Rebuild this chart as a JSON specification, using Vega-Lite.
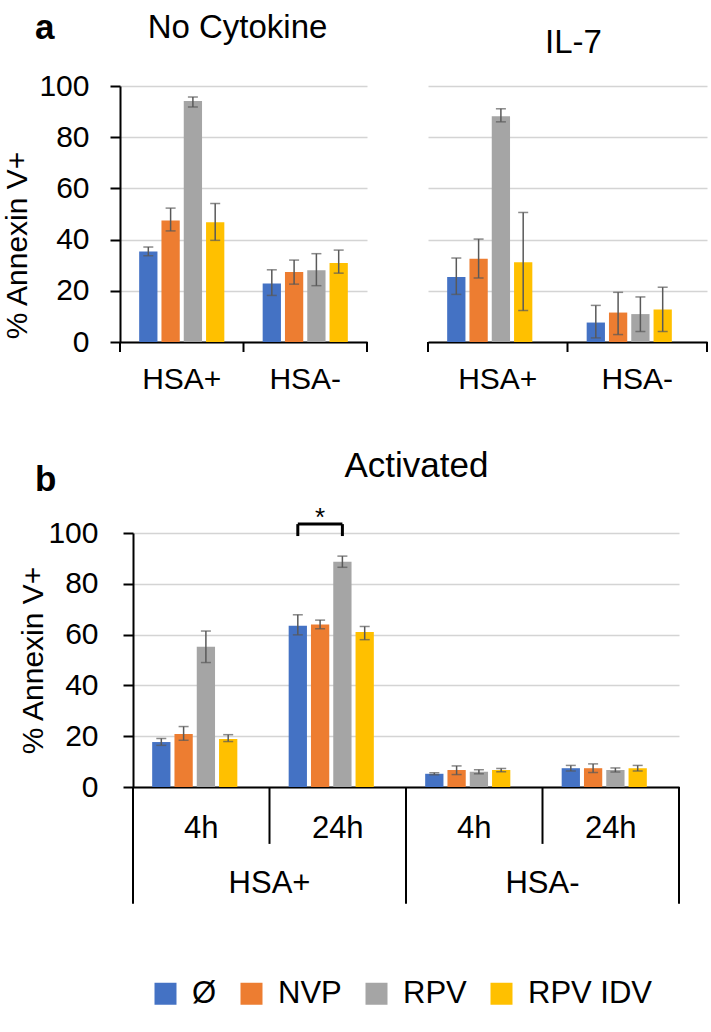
{
  "$schema": "https://vega.github.io/schema/vega-lite/v6.json",
  "padding": {"left": 2, "top": 11, "right": 0, "bottom": 0},
  "autosize": {"type": "pad"},
  "config": {
    "font": "Liberation Sans",
    "view": {"stroke": null},
    "axis": {"domainColor": "black", "domainWidth": 2, "tickColor": "black", "tickWidth": 2, "gridColor": "#d4d4d4", "gridWidth": 1.5, "labelFontSize": 30, "labelColor": "black", "titleFontSize": 30, "titleFontWeight": "normal", "titleColor": "black", "labelFont": "Liberation Sans", "titleFont": "Liberation Sans"},
    "title": {"fontSize": 33, "fontWeight": "normal", "font": "Liberation Sans", "color": "black"},
    "legend": {"orient": "none", "direction": "horizontal", "legendX": 30, "legendY": 892, "padding": 0, "symbolType": "square", "symbolSize": 484, "symbolStrokeWidth": 0, "symbolOpacity": 1, "labelFont": "Liberation Sans", "labelFontSize": 31, "labelColor": "black", "labelOffset": 11, "columnPadding": 19, "labelLimit": 300}
  },
  "datasets": {
    "d": [
      {"p": "NC", "cell": "HSA+", "time": "", "grp": "", "drug": "Ø", "v": 35.4, "lo": 33.7, "hi": 37.1},
      {"p": "NC", "cell": "HSA+", "time": "", "grp": "", "drug": "NVP", "v": 47.5, "lo": 43.4, "hi": 52.3},
      {"p": "NC", "cell": "HSA+", "time": "", "grp": "", "drug": "RPV", "v": 94.1, "lo": 91.8, "hi": 95.7},
      {"p": "NC", "cell": "HSA+", "time": "", "grp": "", "drug": "RPV IDV", "v": 46.8, "lo": 39.7, "hi": 54.1},
      {"p": "NC", "cell": "HSA-", "time": "", "grp": "", "drug": "Ø", "v": 22.9, "lo": 18.2, "hi": 28.2},
      {"p": "NC", "cell": "HSA-", "time": "", "grp": "", "drug": "NVP", "v": 27.3, "lo": 22.6, "hi": 32.0},
      {"p": "NC", "cell": "HSA-", "time": "", "grp": "", "drug": "RPV", "v": 28.0, "lo": 22.0, "hi": 34.5},
      {"p": "NC", "cell": "HSA-", "time": "", "grp": "", "drug": "RPV IDV", "v": 30.9, "lo": 26.9, "hi": 35.9},
      {"p": "IL7", "cell": "HSA+", "time": "", "grp": "", "drug": "Ø", "v": 25.4, "lo": 18.6, "hi": 32.8},
      {"p": "IL7", "cell": "HSA+", "time": "", "grp": "", "drug": "NVP", "v": 32.5, "lo": 25.0, "hi": 40.2},
      {"p": "IL7", "cell": "HSA+", "time": "", "grp": "", "drug": "RPV", "v": 88.2, "lo": 86.0, "hi": 91.1},
      {"p": "IL7", "cell": "HSA+", "time": "", "grp": "", "drug": "RPV IDV", "v": 31.2, "lo": 12.3, "hi": 50.6},
      {"p": "IL7", "cell": "HSA-", "time": "", "grp": "", "drug": "Ø", "v": 7.6, "lo": 1.6, "hi": 14.3},
      {"p": "IL7", "cell": "HSA-", "time": "", "grp": "", "drug": "NVP", "v": 11.5, "lo": 2.9, "hi": 19.4},
      {"p": "IL7", "cell": "HSA-", "time": "", "grp": "", "drug": "RPV", "v": 10.9, "lo": 4.1, "hi": 17.6},
      {"p": "IL7", "cell": "HSA-", "time": "", "grp": "", "drug": "RPV IDV", "v": 12.7, "lo": 4.1, "hi": 21.4},
      {"p": "ACT", "cell": "HSA+", "time": "4h", "grp": "HSA+ 4h", "drug": "Ø", "v": 17.7, "lo": 16.4, "hi": 19.1},
      {"p": "ACT", "cell": "HSA+", "time": "4h", "grp": "HSA+ 4h", "drug": "NVP", "v": 20.9, "lo": 18.4, "hi": 23.8},
      {"p": "ACT", "cell": "HSA+", "time": "4h", "grp": "HSA+ 4h", "drug": "RPV", "v": 55.2, "lo": 49.0, "hi": 61.4},
      {"p": "ACT", "cell": "HSA+", "time": "4h", "grp": "HSA+ 4h", "drug": "RPV IDV", "v": 18.9, "lo": 17.9, "hi": 20.6},
      {"p": "ACT", "cell": "HSA+", "time": "24h", "grp": "HSA+ 24h", "drug": "Ø", "v": 63.5, "lo": 59.9, "hi": 67.8},
      {"p": "ACT", "cell": "HSA+", "time": "24h", "grp": "HSA+ 24h", "drug": "NVP", "v": 64.0, "lo": 62.3, "hi": 65.7},
      {"p": "ACT", "cell": "HSA+", "time": "24h", "grp": "HSA+ 24h", "drug": "RPV", "v": 88.7, "lo": 86.5, "hi": 90.9},
      {"p": "ACT", "cell": "HSA+", "time": "24h", "grp": "HSA+ 24h", "drug": "RPV IDV", "v": 61.0, "lo": 58.0, "hi": 63.2},
      {"p": "ACT", "cell": "HSA-", "time": "4h", "grp": "HSA- 4h", "drug": "Ø", "v": 5.2, "lo": 4.8, "hi": 5.6},
      {"p": "ACT", "cell": "HSA-", "time": "4h", "grp": "HSA- 4h", "drug": "NVP", "v": 6.7, "lo": 4.9, "hi": 8.3},
      {"p": "ACT", "cell": "HSA-", "time": "4h", "grp": "HSA- 4h", "drug": "RPV", "v": 6.0, "lo": 5.2, "hi": 6.8},
      {"p": "ACT", "cell": "HSA-", "time": "4h", "grp": "HSA- 4h", "drug": "RPV IDV", "v": 6.7, "lo": 6.0, "hi": 7.3},
      {"p": "ACT", "cell": "HSA-", "time": "24h", "grp": "HSA- 24h", "drug": "Ø", "v": 7.4, "lo": 6.3, "hi": 8.5},
      {"p": "ACT", "cell": "HSA-", "time": "24h", "grp": "HSA- 24h", "drug": "NVP", "v": 7.4, "lo": 5.7, "hi": 9.1},
      {"p": "ACT", "cell": "HSA-", "time": "24h", "grp": "HSA- 24h", "drug": "RPV", "v": 6.7, "lo": 5.9, "hi": 7.5},
      {"p": "ACT", "cell": "HSA-", "time": "24h", "grp": "HSA- 24h", "drug": "RPV IDV", "v": 7.4, "lo": 6.3, "hi": 8.5}
    ]
  },
  "resolve": {"scale": {"color": "shared"}, "legend": {"color": "shared"}},
  "spacing": 54,
  "vconcat": [
    {
      "title": {"text": "a", "anchor": "start", "fontSize": 35, "fontWeight": "bold", "dx": 32, "dy": 38},
      "resolve": {"scale": {"color": "shared"}, "legend": {"color": "shared"}},
      "spacing": 59,
      "hconcat": [
        {
          "width": 247, "height": 256,
          "title": {"text": "No Cytokine", "offset": 26, "dx": -6},
          "data": {"name": "d"},
          "transform": [{"filter": "datum.p == 'NC'"}],
          "layer": [
            {"mark": {"type": "bar"}, "encoding": {
              "x": {"field": "cell", "type": "nominal", "sort": ["HSA+", "HSA-"], "scale": {"paddingInner": 0, "paddingOuter": 0}, "axis": {"title": null, "labelAngle": 0, "ticks": false, "labelPadding": 22, "labelFontSize": 30}},
              "xOffset": {"field": "drug", "type": "nominal", "sort": ["Ø", "NVP", "RPV", "RPV IDV"], "scale": {"paddingInner": 0.18, "paddingOuter": 0.86}},
              "y": {"field": "v", "type": "quantitative", "scale": {"domain": [0, 100], "nice": false}, "axis": {"title": "% Annexin V+", "values": [0, 20, 40, 60, 80, 100], "grid": true, "tickSize": 10, "labelPadding": 21, "titlePadding": 6, "titleY": 159}},
              "color": {"field": "drug", "type": "nominal", "sort": ["Ø", "NVP", "RPV", "RPV IDV"], "scale": {"domain": ["Ø", "NVP", "RPV", "RPV IDV"], "range": ["#4472C4", "#ED7D31", "#A5A5A5", "#FFC000"]}, "legend": {"title": null}}
            }},
            {"mark": {"type": "rule", "color": "#595959", "strokeWidth": 1.5}, "encoding": {
              "x": {"field": "cell", "type": "nominal", "sort": ["HSA+", "HSA-"]},
              "xOffset": {"field": "drug", "type": "nominal", "sort": ["Ø", "NVP", "RPV", "RPV IDV"]},
              "y": {"field": "lo", "type": "quantitative"}, "y2": {"field": "hi"}
            }},
            {"mark": {"type": "tick", "color": "#595959", "thickness": 1.5, "size": 10}, "encoding": {
              "x": {"field": "cell", "type": "nominal", "sort": ["HSA+", "HSA-"]},
              "xOffset": {"field": "drug", "type": "nominal", "sort": ["Ø", "NVP", "RPV", "RPV IDV"]},
              "y": {"field": "lo", "type": "quantitative"}
            }},
            {"mark": {"type": "tick", "color": "#595959", "thickness": 1.5, "size": 10}, "encoding": {
              "x": {"field": "cell", "type": "nominal", "sort": ["HSA+", "HSA-"]},
              "xOffset": {"field": "drug", "type": "nominal", "sort": ["Ø", "NVP", "RPV", "RPV IDV"]},
              "y": {"field": "hi", "type": "quantitative"}
            }},
            {"transform": [{"filter": "datum.drug == 'Ø'"}], "mark": {"type": "rule", "color": "black", "strokeWidth": 2}, "encoding": {
              "x": {"field": "cell", "type": "nominal", "sort": ["HSA+", "HSA-"], "bandPosition": 0},
              "y": {"datum": 0}, "y2": {"datum": -3.9}
            }},
            {"transform": [{"filter": "datum.drug == 'Ø' && datum.cell == 'HSA-'"}], "mark": {"type": "rule", "color": "black", "strokeWidth": 2}, "encoding": {
              "x": {"field": "cell", "type": "nominal", "sort": ["HSA+", "HSA-"], "bandPosition": 1},
              "y": {"datum": 0}, "y2": {"datum": -3.9}
            }}
          ]
        },
        {
          "width": 279, "height": 256,
          "title": {"text": "IL-7", "offset": 26, "dx": 6},
          "data": {"name": "d"},
          "transform": [{"filter": "datum.p == 'IL7'"}],
          "layer": [
            {"mark": {"type": "bar"}, "encoding": {
              "x": {"field": "cell", "type": "nominal", "sort": ["HSA+", "HSA-"], "scale": {"paddingInner": 0, "paddingOuter": 0}, "axis": {"title": null, "labelAngle": 0, "ticks": false, "labelPadding": 22, "labelFontSize": 30}},
              "xOffset": {"field": "drug", "type": "nominal", "sort": ["Ø", "NVP", "RPV", "RPV IDV"], "scale": {"paddingInner": 0.2, "paddingOuter": 0.87}},
              "y": {"field": "v", "type": "quantitative", "scale": {"domain": [0, 100], "nice": false}, "axis": {"title": null, "values": [0, 20, 40, 60, 80, 100], "grid": true, "domain": false, "ticks": false, "labels": false}},
              "color": {"field": "drug", "type": "nominal", "sort": ["Ø", "NVP", "RPV", "RPV IDV"], "scale": {"domain": ["Ø", "NVP", "RPV", "RPV IDV"], "range": ["#4472C4", "#ED7D31", "#A5A5A5", "#FFC000"]}, "legend": {"title": null}}
            }},
            {"mark": {"type": "rule", "color": "#595959", "strokeWidth": 1.5}, "encoding": {
              "x": {"field": "cell", "type": "nominal", "sort": ["HSA+", "HSA-"]},
              "xOffset": {"field": "drug", "type": "nominal", "sort": ["Ø", "NVP", "RPV", "RPV IDV"]},
              "y": {"field": "lo", "type": "quantitative"}, "y2": {"field": "hi"}
            }},
            {"mark": {"type": "tick", "color": "#595959", "thickness": 1.5, "size": 10}, "encoding": {
              "x": {"field": "cell", "type": "nominal", "sort": ["HSA+", "HSA-"]},
              "xOffset": {"field": "drug", "type": "nominal", "sort": ["Ø", "NVP", "RPV", "RPV IDV"]},
              "y": {"field": "lo", "type": "quantitative"}
            }},
            {"mark": {"type": "tick", "color": "#595959", "thickness": 1.5, "size": 10}, "encoding": {
              "x": {"field": "cell", "type": "nominal", "sort": ["HSA+", "HSA-"]},
              "xOffset": {"field": "drug", "type": "nominal", "sort": ["Ø", "NVP", "RPV", "RPV IDV"]},
              "y": {"field": "hi", "type": "quantitative"}
            }},
            {"transform": [{"filter": "datum.drug == 'Ø'"}], "mark": {"type": "rule", "color": "black", "strokeWidth": 2}, "encoding": {
              "x": {"field": "cell", "type": "nominal", "sort": ["HSA+", "HSA-"], "bandPosition": 0},
              "y": {"datum": 0}, "y2": {"datum": -3.9}
            }},
            {"transform": [{"filter": "datum.drug == 'Ø' && datum.cell == 'HSA-'"}], "mark": {"type": "rule", "color": "black", "strokeWidth": 2}, "encoding": {
              "x": {"field": "cell", "type": "nominal", "sort": ["HSA+", "HSA-"], "bandPosition": 1},
              "y": {"datum": 0}, "y2": {"datum": -3.9}
            }}
          ]
        }
      ]
    },
    {
      "title": {"text": "b", "anchor": "start", "fontSize": 35, "fontWeight": "bold", "dx": 16, "dy": 53},
      "resolve": {"scale": {"color": "shared"}, "legend": {"color": "shared"}},
      "hconcat": [
        {
          "width": 559, "height": 254,
          "title": {"text": "Activated", "fontSize": 35, "offset": 21, "dx": 17},
          "data": {"name": "d"},
          "transform": [{"filter": "datum.p == 'ACT'"}],
          "layer": [
            {"mark": {"type": "bar"}, "encoding": {
              "x": {"field": "grp", "type": "nominal", "sort": ["HSA+ 4h", "HSA+ 24h", "HSA- 4h", "HSA- 24h"], "scale": {"paddingInner": 0, "paddingOuter": 0, "range": [13, 559]}, "axis": {"title": null, "labelAngle": 0, "ticks": false, "labelPadding": 26, "labelFontSize": 31, "labelExpr": "split(datum.label, ' ')[1]"}},
              "xOffset": {"field": "drug", "type": "nominal", "sort": ["Ø", "NVP", "RPV", "RPV IDV"], "scale": {"paddingInner": 0.19, "paddingOuter": 0.86}},
              "y": {"field": "v", "type": "quantitative", "scale": {"domain": [0, 100], "nice": false}, "axis": {"title": "% Annexin V+", "values": [0, 20, 40, 60, 80, 100], "grid": true, "tickSize": 10, "labelPadding": 25, "titlePadding": -1, "offset": -13}},
              "color": {"field": "drug", "type": "nominal", "sort": ["Ø", "NVP", "RPV", "RPV IDV"], "scale": {"domain": ["Ø", "NVP", "RPV", "RPV IDV"], "range": ["#4472C4", "#ED7D31", "#A5A5A5", "#FFC000"]}, "legend": {"title": null}}
            }},
            {"mark": {"type": "rule", "color": "#595959", "strokeWidth": 1.5}, "encoding": {
              "x": {"field": "grp", "type": "nominal", "sort": ["HSA+ 4h", "HSA+ 24h", "HSA- 4h", "HSA- 24h"]},
              "xOffset": {"field": "drug", "type": "nominal", "sort": ["Ø", "NVP", "RPV", "RPV IDV"]},
              "y": {"field": "lo", "type": "quantitative"}, "y2": {"field": "hi"}
            }},
            {"mark": {"type": "tick", "color": "#595959", "thickness": 1.5, "size": 10}, "encoding": {
              "x": {"field": "grp", "type": "nominal", "sort": ["HSA+ 4h", "HSA+ 24h", "HSA- 4h", "HSA- 24h"]},
              "xOffset": {"field": "drug", "type": "nominal", "sort": ["Ø", "NVP", "RPV", "RPV IDV"]},
              "y": {"field": "lo", "type": "quantitative"}
            }},
            {"mark": {"type": "tick", "color": "#595959", "thickness": 1.5, "size": 10}, "encoding": {
              "x": {"field": "grp", "type": "nominal", "sort": ["HSA+ 4h", "HSA+ 24h", "HSA- 4h", "HSA- 24h"]},
              "xOffset": {"field": "drug", "type": "nominal", "sort": ["Ø", "NVP", "RPV", "RPV IDV"]},
              "y": {"field": "hi", "type": "quantitative"}
            }},
            {"transform": [{"filter": "datum.drug == 'Ø' && datum.time == '24h'"}], "mark": {"type": "rule", "color": "black", "strokeWidth": 2}, "encoding": {
              "x": {"field": "grp", "type": "nominal", "sort": ["HSA+ 4h", "HSA+ 24h", "HSA- 4h", "HSA- 24h"], "bandPosition": 0},
              "y": {"datum": 0}, "y2": {"datum": -22.4}
            }},
            {"transform": [{"filter": "datum.drug == 'Ø' && datum.time == '4h'"}], "mark": {"type": "rule", "color": "black", "strokeWidth": 2}, "encoding": {
              "x": {"field": "grp", "type": "nominal", "sort": ["HSA+ 4h", "HSA+ 24h", "HSA- 4h", "HSA- 24h"], "bandPosition": 0},
              "y": {"datum": 0}, "y2": {"datum": -46}
            }},
            {"transform": [{"filter": "datum.drug == 'Ø' && datum.grp == 'HSA- 24h'"}], "mark": {"type": "rule", "color": "black", "strokeWidth": 2}, "encoding": {
              "x": {"field": "grp", "type": "nominal", "sort": ["HSA+ 4h", "HSA+ 24h", "HSA- 4h", "HSA- 24h"], "bandPosition": 1},
              "y": {"datum": 0}, "y2": {"datum": -46}
            }},
            {"transform": [{"filter": "datum.drug == 'Ø' && datum.time == '24h'"}], "mark": {"type": "text", "fontSize": 31, "baseline": "middle", "align": "center", "color": "black"}, "encoding": {
              "x": {"field": "grp", "type": "nominal", "sort": ["HSA+ 4h", "HSA+ 24h", "HSA- 4h", "HSA- 24h"], "bandPosition": 0},
              "y": {"datum": -38.2},
              "text": {"field": "cell"}
            }},
            {"transform": [{"filter": "datum.grp == 'HSA+ 24h' && (datum.drug == 'Ø' || datum.drug == 'RPV')"}], "mark": {"type": "rule", "color": "black", "strokeWidth": 3}, "encoding": {
              "x": {"field": "grp", "type": "nominal", "sort": ["HSA+ 4h", "HSA+ 24h", "HSA- 4h", "HSA- 24h"]},
              "xOffset": {"field": "drug", "type": "nominal", "sort": ["Ø", "NVP", "RPV", "RPV IDV"]},
              "y": {"datum": 98.8}, "y2": {"datum": 103.5}
            }},
            {"transform": [{"filter": "datum.grp == 'HSA+ 24h' && (datum.drug == 'Ø' || datum.drug == 'RPV')"}], "mark": {"type": "line", "color": "black", "strokeWidth": 3}, "encoding": {
              "x": {"field": "grp", "type": "nominal", "sort": ["HSA+ 4h", "HSA+ 24h", "HSA- 4h", "HSA- 24h"]},
              "xOffset": {"field": "drug", "type": "nominal", "sort": ["Ø", "NVP", "RPV", "RPV IDV"]},
              "y": {"datum": 103.5}
            }},
            {"transform": [{"filter": "datum.grp == 'HSA+ 24h' && datum.drug == 'NVP'"}], "mark": {"type": "text", "fontSize": 26, "baseline": "middle", "align": "center", "color": "black", "dx": 0}, "encoding": {
              "x": {"field": "grp", "type": "nominal", "sort": ["HSA+ 4h", "HSA+ 24h", "HSA- 4h", "HSA- 24h"]},
              "xOffset": {"field": "drug", "type": "nominal", "sort": ["Ø", "NVP", "RPV", "RPV IDV"]},
              "y": {"datum": 106},
              "text": {"value": "*"}
            }}
          ]
        }
      ]
    }
  ]
}
